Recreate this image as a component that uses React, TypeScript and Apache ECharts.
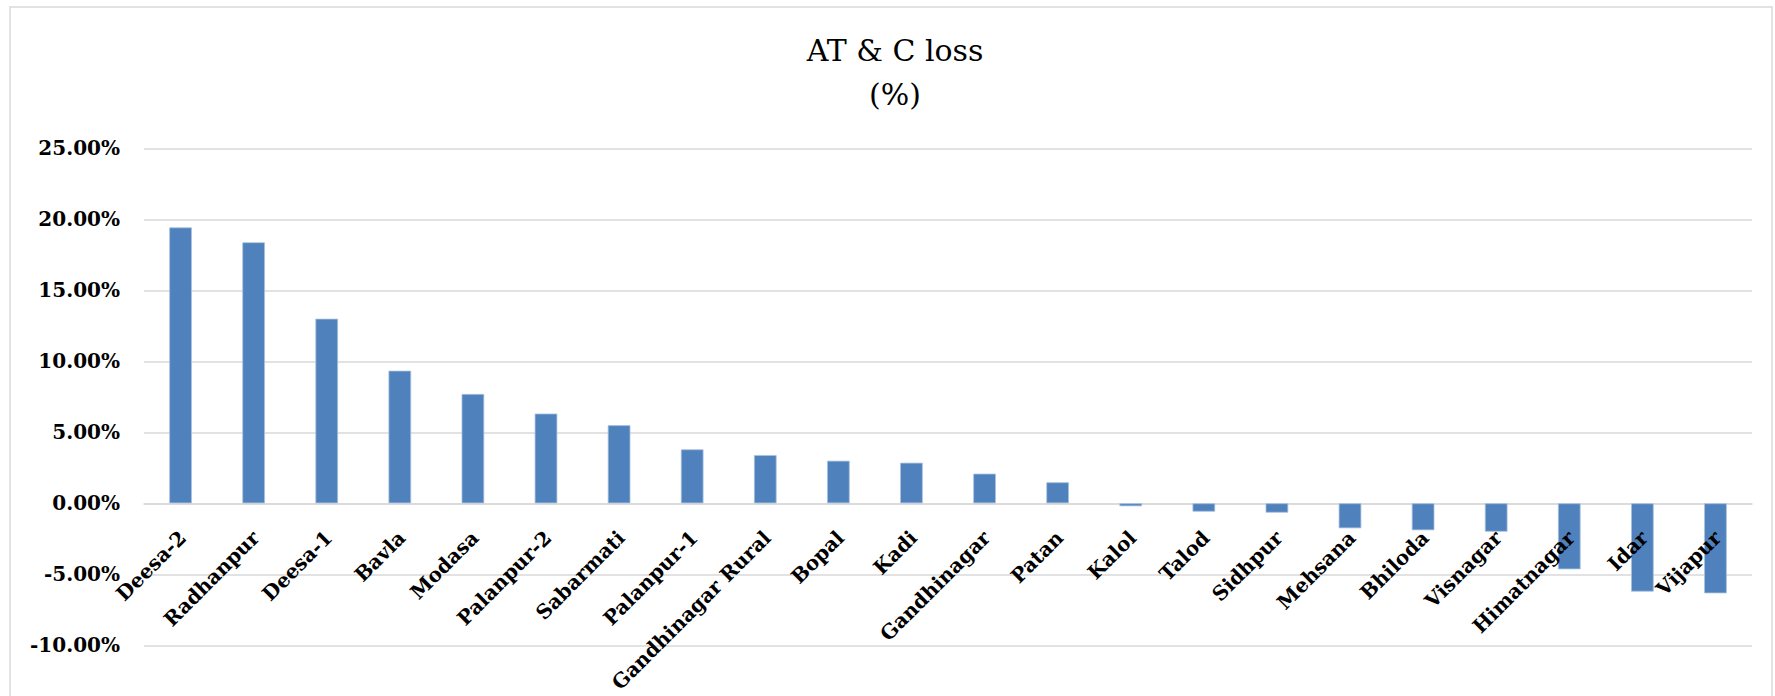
import React, { useEffect, useRef } from "react";
import * as echarts from "echarts";

const categories = [
  "Deesa-2", "Radhanpur", "Deesa-1", "Bavla", "Modasa", "Palanpur-2", "Sabarmati",
  "Palanpur-1", "Gandhinagar Rural", "Bopal", "Kadi", "Gandhinagar", "Patan", "Kalol",
  "Talod", "Sidhpur", "Mehsana", "Bhiloda", "Visnagar", "Himatnagar", "Idar", "Vijapur",
];

const lossValues = [
  19.43, 18.38, 13.0, 9.34, 7.7, 6.32, 5.5,
  3.8, 3.4, 3.0, 2.86, 2.09, 1.48, -0.21,
  -0.59, -0.66, -1.76, -1.9, -2.0, -4.65, -6.22, -6.34,
];

const yMin = -10;
const yMax = 25;
const yInterval = 5;

const titleText = "AT & C loss\n(%)";

export default function App() {
  const ref = useRef<HTMLDivElement>(null);

  useEffect(() => {
    if (!ref.current) return;
    const chart = echarts.init(ref.current, null, { renderer: "svg" });
    const labelFont = "DejaVu Serif";
    chart.setOption({
      animation: false,
      backgroundColor: "#ffffff",
      graphic: [
        {
          type: "rect",
          shape: { x: 10, y: 7, width: 1762, height: 700 },
          style: { fill: "none", stroke: "#d9d9d9", lineWidth: 1.5 },
          silent: true,
          z: -1,
        },
        {
          type: "text",
          x: 895,
          y: 28,
          style: {
            text: titleText,
            font: "normal 30px 'DejaVu Serif'",
            fill: "#000000",
            textAlign: "center",
            textVerticalAlign: "top",
            lineHeight: 44,
          },
          silent: true,
        },
      ],
      grid: {
        left: 144,
        right: 23,
        top: 148.3,
        bottom: 50.7,
        containLabel: false,
        outerBoundsMode: "none",
      },
      xAxis: {
        type: "category",
        data: categories,
        axisLine: { show: true, onZero: true, lineStyle: { color: "#d9d9d9", width: 1.5 } },
        axisTick: { show: false },
        axisLabel: { show: false },
      },
      yAxis: {
        type: "value",
        min: yMin,
        max: yMax,
        interval: yInterval,
        axisLine: { show: false },
        axisTick: { show: false },
        splitLine: { show: true, lineStyle: { color: "#d9d9d9", width: 1.5 } },
        axisLabel: {
          margin: 24,
          fontFamily: labelFont,
          fontWeight: "bold",
          fontSize: 20,
          color: "#000000",
          formatter: (v: number) => v.toFixed(2) + "%",
        },
      },
      series: [
        {
          type: "bar",
          data: lossValues,
          barWidth: "31%",
          itemStyle: { color: "#4F81BD", borderColor: "#a9c1e0", borderWidth: 0.8 },
          z: 2,
        },
        {
          type: "custom",
          data: categories.map((_, i) => [i, 0]),
          silent: true,
          z: 5,
          renderItem: (params: any, api: any) => {
            const idx = api.value(0);
            const pt = api.coord([idx, 0]);
            return {
              type: "text",
              x: pt[0] + 2,
              y: pt[1] + 31,
              rotation: Math.PI / 4,
              style: {
                text: categories[idx],
                font: "bold 20px 'DejaVu Serif'",
                fill: "#000000",
                align: "right",
                verticalAlign: "middle",
              },
            };
          },
        },
      ],
    });
    return () => chart.dispose();
  }, []);

  return (
    <div
      ref={ref}
      style={{ position: "absolute", left: 0, top: 0, width: 1775, height: 696 }}
    />
  );
}
